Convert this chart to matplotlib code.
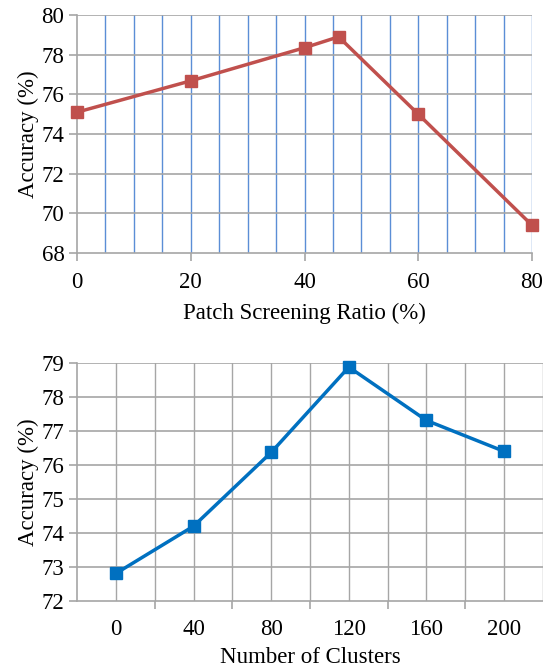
import matplotlib.pyplot as plt
import numpy as np

plt.rcParams['font.family'] = ['Liberation Serif', 'DejaVu Serif']

ratio = [0, 20, 40, 46, 60, 80]
ratio_acc = [75.1, 76.68, 78.35, 78.9, 75.0, 69.4]

clusters = ['0', '40', '80', '120', '160', '200']
cluster_acc = [72.81, 74.2, 76.37, 78.88, 77.31, 76.4]

red = '#c0504d'
blue = '#0070c0'
gray = '#a6a6a6'

fig = plt.figure(figsize=(5.43, 6.68), dpi=100)
fs = 16.5

# top panel
ax1 = fig.add_axes([77/543, 1 - 253/668, 455/543, 238/668])
ax1.plot(ratio, ratio_acc, color=red, lw=2.5, marker='s', ms=9,
         clip_on=False, zorder=5)
ax1.set_xlim(0, 80)
ax1.set_ylim(68, 80)
ax1.set_xticks([0, 20, 40, 60, 80])
ax1.set_yticks(np.arange(68, 81, 2))
for x in np.arange(5, 81, 5):
    ax1.axvline(x, color='#5b8ed6', lw=1.0, zorder=1)
for y in np.arange(70, 81, 2):
    ax1.axhline(y, color=gray, lw=1.2, zorder=1)
ax1.set_xlabel('Patch Screening Ratio (%)', fontsize=fs, labelpad=7)
ax1.set_ylabel('Accuracy (%)', fontsize=fs, labelpad=2)

# bottom panel
ax2 = fig.add_axes([77/543, 1 - 601/668, 466/543, 238/668])
pos = np.arange(len(clusters))
ax2.plot(pos, cluster_acc, color=blue, lw=2.5, marker='s', ms=9,
         clip_on=False, zorder=5)
ax2.set_xlim(-0.5, len(clusters) - 0.5)
ax2.set_ylim(72, 79)
ax2.set_xticks(pos)
ax2.set_xticklabels(clusters)
ax2.set_xticks(pos[:-1] + 0.5, minor=True)
ax2.set_yticks(np.arange(72, 80, 1))
for x in np.arange(-0.5, len(clusters), 0.5)[1:]:
    ax2.axvline(x, color=gray, lw=1.0, zorder=1)
for y in np.arange(73, 80, 1):
    ax2.axhline(y, color=gray, lw=1.2, zorder=1)
ax2.tick_params(axis='x', which='major', length=0, pad=13)
ax2.tick_params(axis='x', which='minor', length=6, color=gray, width=1.2)
ax2.set_xlabel('Number of Clusters', fontsize=fs, labelpad=5)
ax2.set_ylabel('Accuracy (%)', fontsize=fs, labelpad=2)

for ax in (ax1, ax2):
    for s in ('top', 'right'):
        ax.spines[s].set_visible(False)
    for s in ('left', 'bottom'):
        ax.spines[s].set_color(gray)
        ax.spines[s].set_linewidth(1.2)
    ax.tick_params(labelsize=fs, color=gray, width=1.2)
    ax.tick_params(axis='y', length=6, pad=3)
ax1.tick_params(axis='x', length=6, pad=8)

fig.savefig('out.png', dpi=100)
